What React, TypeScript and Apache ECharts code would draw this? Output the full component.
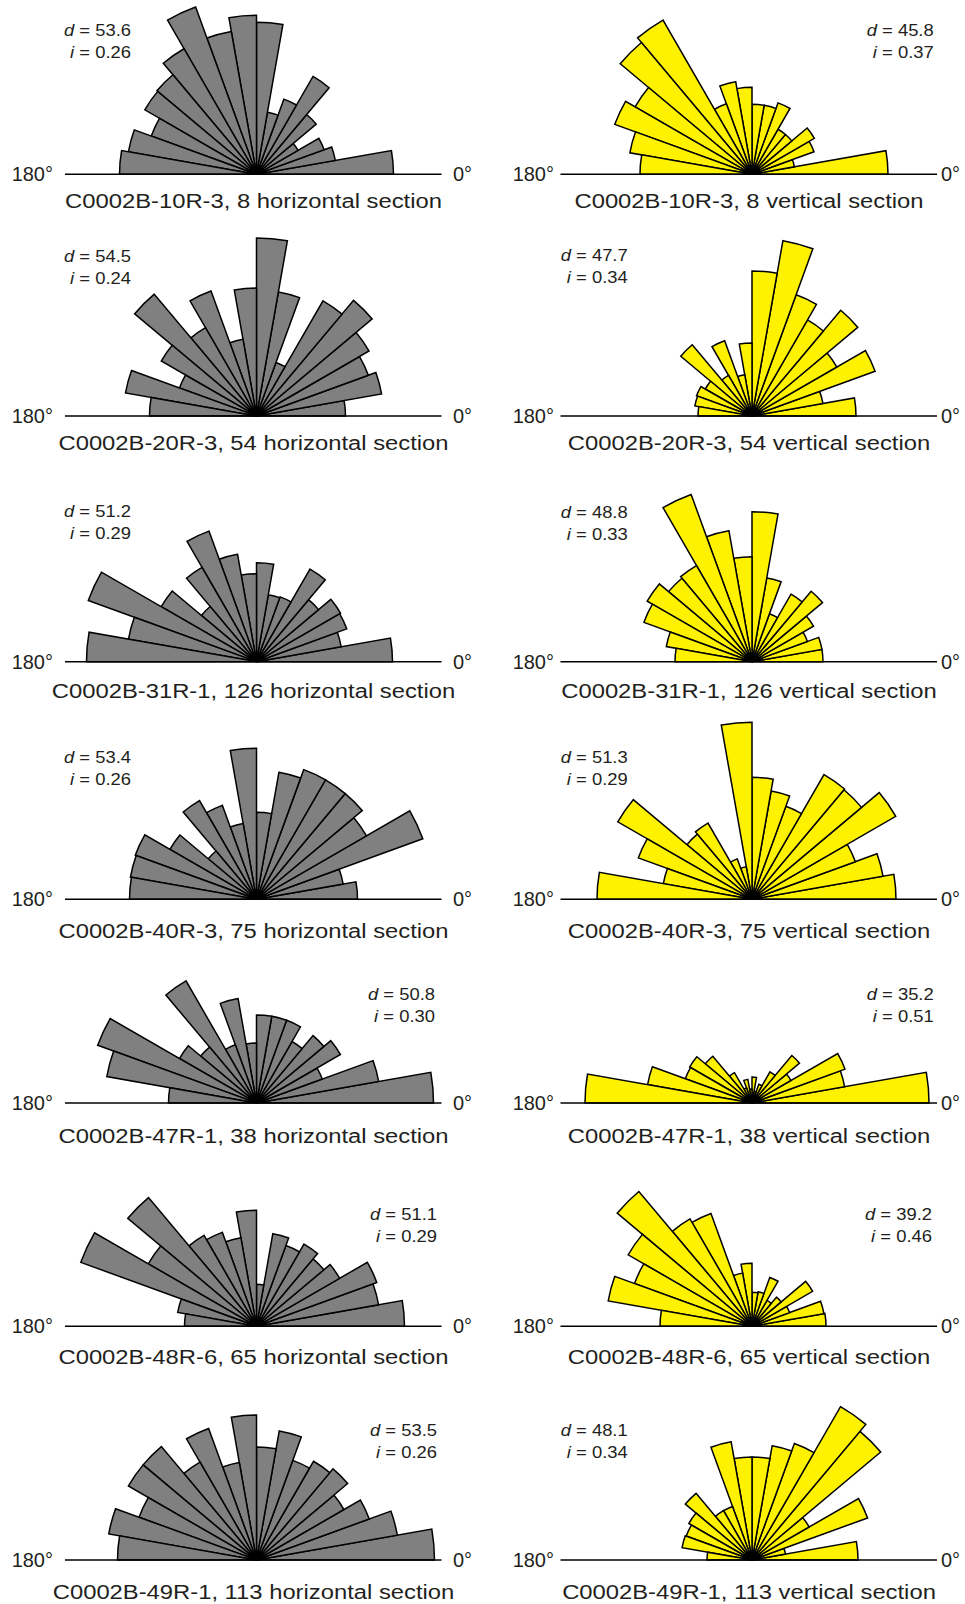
import React, { useEffect, useRef } from 'react';
import * as echarts from 'echarts';

// Rose diagrams of grain long-axis orientation, 10° classes from 0° (right) to 180° (left).
// Bar length = relative frequency of each direction class (same radial scale in every rose).
const directionBins = [
  '0–10°', '10–20°', '20–30°', '30–40°', '40–50°', '50–60°', '60–70°', '70–80°', '80–90°',
  '90–100°', '100–110°', '110–120°', '120–130°', '130–140°', '140–150°', '150–160°', '160–170°', '170–180°',
];

const h10R3 = [13.7, 8.0, 7.2, 4.8, 7.8, 11.3, 8.0, 6.3, 15.2, 15.9, 14.5, 17.8, 14.5, 13.0, 12.9, 11.2, 13.0, 13.7];
const v10R3 = [13.6, 4.3, 6.6, 7.2, 5.2, 5.2, 7.6, 7.0, 7.0, 8.7, 9.4, 7.5, 17.8, 17.2, 13.5, 14.6, 12.4, 11.2];
const h20R3 = [8.9, 12.7, 11.9, 13.0, 15.1, 13.3, 5.7, 12.6, 17.8, 12.8, 7.8, 13.3, 10.2, 15.9, 11.0, 8.2, 13.3, 10.7];
const v20R3 = [10.4, 7.2, 13.1, 9.8, 13.8, 11.1, 12.9, 17.8, 14.5, 7.3, 4.2, 8.0, 4.7, 9.3, 5.4, 5.9, 5.8, 5.4];
const h31R1 = [13.6, 8.6, 9.6, 9.7, 8.1, 10.7, 6.9, 6.8, 9.9, 8.8, 10.9, 13.9, 10.9, 7.2, 11.0, 17.9, 13.0, 17.0];
const v31R1 = [7.1, 7.1, 5.9, 7.1, 9.2, 7.8, 5.1, 8.5, 15.0, 10.5, 13.3, 17.8, 11.1, 10.9, 12.1, 11.5, 8.7, 7.7];
const h40R3 = [10.1, 8.8, 17.7, 12.7, 13.8, 13.8, 13.8, 12.9, 8.7, 15.1, 7.7, 10.0, 11.4, 6.3, 10.0, 12.9, 12.8, 12.7];
const v40R3 = [14.4, 13.3, 11.0, 16.6, 14.3, 14.4, 9.9, 11.0, 12.2, 17.7, 3.3, 4.3, 8.8, 8.5, 15.5, 12.1, 9.0, 15.5];
const h47R1 = [17.7, 12.4, 7.0, 9.7, 8.8, 7.1, 8.8, 8.8, 8.8, 6.0, 10.6, 6.2, 14.1, 7.3, 8.9, 16.9, 15.2, 8.8];
const v47R1 = [17.7, 9.4, 9.9, 4.5, 6.2, 3.6, 2.0, 1.2, 2.6, 1.4, 2.4, 1.6, 3.5, 6.1, 7.2, 7.1, 10.6, 16.7];
const h48R6 = [14.8, 12.4, 12.8, 9.6, 8.8, 9.5, 8.6, 9.4, 4.2, 11.6, 9.0, 10.0, 10.5, 16.8, 12.5, 18.7, 8.0, 7.2];
const v48R6 = [7.4, 7.3, 4.0, 7.0, 3.8, 3.0, 5.2, 3.5, 3.4, 6.3, 5.4, 12.0, 12.4, 17.6, 14.3, 12.5, 14.6, 9.2];
const h49R1 = [17.8, 14.3, 12.0, 10.1, 11.9, 11.4, 10.6, 13.1, 11.3, 14.5, 9.9, 14.0, 11.3, 14.8, 14.8, 12.5, 15.0, 13.9];
const v49R1 = [10.6, 3.4, 12.3, 6.6, 16.8, 17.7, 12.4, 11.6, 10.3, 10.3, 12.0, 5.7, 5.7, 8.7, 7.3, 7.0, 7.1, 4.5];

const samples = [
  'C0002B-10R-3, 8', 'C0002B-20R-3, 54', 'C0002B-31R-1, 126', 'C0002B-40R-3, 75',
  'C0002B-47R-1, 38', 'C0002B-48R-6, 65', 'C0002B-49R-1, 113',
];
const horizontalData = [h10R3, h20R3, h31R1, h40R3, h47R1, h48R6, h49R1];
const verticalData = [v10R3, v20R3, v31R1, v40R3, v47R1, v48R6, v49R1];
const horizontalD = ['53.6', '54.5', '51.2', '53.4', '50.8', '51.1', '53.5'];
const horizontalI = ['0.26', '0.24', '0.29', '0.26', '0.30', '0.29', '0.26'];
const verticalD = ['45.8', '47.7', '48.8', '51.3', '35.2', '39.2', '48.1'];
const verticalI = ['0.37', '0.34', '0.33', '0.29', '0.51', '0.46', '0.34'];
const axisEnds = ['0°', '180°'];

// ---- layout (pixels) ----
const W = 965;
const H = 1604;
const colCx = [256.5, 752];
const colZeroDx = [196.5, 189];   // left edge of "0°" from the centre
const colEndDx = [203.5, 198];    // right edge of "180°" from the centre
const rowBase = [174.3, 416, 661.7, 899.3, 1103, 1326.3, 1560];
const rowTitleY = [201.5, 443, 691, 931, 1136, 1357, 1592];
// [rightEdgeX, dLineY] per panel, left column then right column
const statLeft = [[131, 30], [131, 256], [131, 511.5], [131, 757], [435, 994], [437, 1214], [437, 1430]];
const statRight = [[933.7, 30.5], [627.7, 255.5], [627.7, 512], [627.7, 757], [933.7, 994], [932, 1214], [627.7, 1430]];
const POLAR_R = 200; // px for radius-axis max
const R_MAX = 20;

const GREY = '#808080';
const YELLOW = '#fff200';
const INK = '#231f20';
const FONT = 'Arial, Liberation Sans, Helvetica, sans-serif';

const fullCircleCats = Array.from({ length: 36 }, (_, k) => `${k * 10}–${k * 10 + 10}°`);

type Panel = {
  col: number; cx: number; by: number; titleY: number; title: string; d: string; i: string;
  color: string; values: number[]; stat: number[];
};

const panels: Panel[] = [];
samples.forEach((s, r) => {
  panels.push({
    col: 0, cx: colCx[0], by: rowBase[r], titleY: rowTitleY[r], title: `${s} horizontal section`,
    d: horizontalD[r], i: horizontalI[r], color: GREY, values: horizontalData[r], stat: statLeft[r],
  });
  panels.push({
    col: 1, cx: colCx[1], by: rowBase[r], titleY: rowTitleY[r], title: `${s} vertical section`,
    d: verticalD[r], i: verticalI[r], color: YELLOW, values: verticalData[r], stat: statRight[r],
  });
});

function buildOption() {
  const hidden = { axisLine: { show: false }, axisTick: { show: false }, axisLabel: { show: false }, splitLine: { show: false }, splitArea: { show: false } };
  const polar = panels.map((p) => ({ center: [p.cx, p.by], radius: POLAR_R }));
  const angleAxis = panels.map((_, k) => ({
    polarIndex: k, type: 'category', data: fullCircleCats, startAngle: 0, clockwise: false, boundaryGap: true, ...hidden,
  }));
  const radiusAxis = panels.map((_, k) => ({ polarIndex: k, type: 'value', min: 0, max: R_MAX, ...hidden }));
  const series = panels.map((p, k) => ({
    type: 'bar',
    name: p.title,
    coordinateSystem: 'polar',
    polarIndex: k,
    barCategoryGap: '0%',
    barGap: '0%',
    silent: true,
    itemStyle: { color: p.color, borderColor: '#000', borderWidth: 1.5 },
    data: [...p.values, ...Array(18).fill('-')],
  }));

  const graphic: any[] = [];
  panels.forEach((p) => {
    graphic.push({
      type: 'line', z: 100, silent: true,
      shape: { x1: p.cx - 191.5, y1: p.by, x2: p.cx + 185, y2: p.by },
      style: { stroke: '#000', lineWidth: 1.6 },
    });
    graphic.push({
      type: 'text', z: 100, silent: true, x: p.cx + colZeroDx[p.col], y: p.by,
      style: { text: axisEnds[0], fontSize: 20, fontFamily: FONT, fill: INK, textAlign: 'left', textVerticalAlign: 'middle', align: 'left', verticalAlign: 'middle' },
    });
    graphic.push({
      type: 'text', z: 100, silent: true, x: p.cx - colEndDx[p.col], y: p.by,
      style: { text: axisEnds[1], fontSize: 20, fontFamily: FONT, fill: INK, textAlign: 'right', textVerticalAlign: 'middle', align: 'right', verticalAlign: 'middle' },
    });
    graphic.push({
      type: 'text', z: 100, silent: true, x: p.cx - 3, y: p.titleY, scaleX: 1.19,
      style: { text: p.title, fontSize: 20, fontFamily: FONT, fill: INK, textAlign: 'center', textVerticalAlign: 'middle', align: 'center', verticalAlign: 'middle' },
    });
    const rich = { it: { fontStyle: 'italic', fontSize: 16, fontFamily: FONT, fill: INK } };
    graphic.push({
      type: 'text', z: 100, silent: true, x: p.stat[0], y: p.stat[1], scaleX: 1.15,
      style: { text: `{it|d} = ${p.d}`, rich, fontSize: 16, fontFamily: FONT, fill: INK, textAlign: 'right', textVerticalAlign: 'middle', align: 'right', verticalAlign: 'middle' },
    });
    graphic.push({
      type: 'text', z: 100, silent: true, x: p.stat[0], y: p.stat[1] + 22, scaleX: 1.15,
      style: { text: `{it|i} = ${p.i}`, rich, fontSize: 16, fontFamily: FONT, fill: INK, textAlign: 'right', textVerticalAlign: 'middle', align: 'right', verticalAlign: 'middle' },
    });
  });

  return { animation: false, backgroundColor: '#fff', polar, angleAxis, radiusAxis, series, graphic };
}

export default function App() {
  const ref = useRef<HTMLDivElement>(null);
  useEffect(() => {
    if (!ref.current) return;
    const chart = echarts.init(ref.current, undefined, { renderer: 'svg' });
    chart.setOption(buildOption() as any);
    return () => chart.dispose();
  }, []);
  return <div ref={ref} style={{ position: 'absolute', left: 0, top: 0, width: W, height: H }} />;
}
